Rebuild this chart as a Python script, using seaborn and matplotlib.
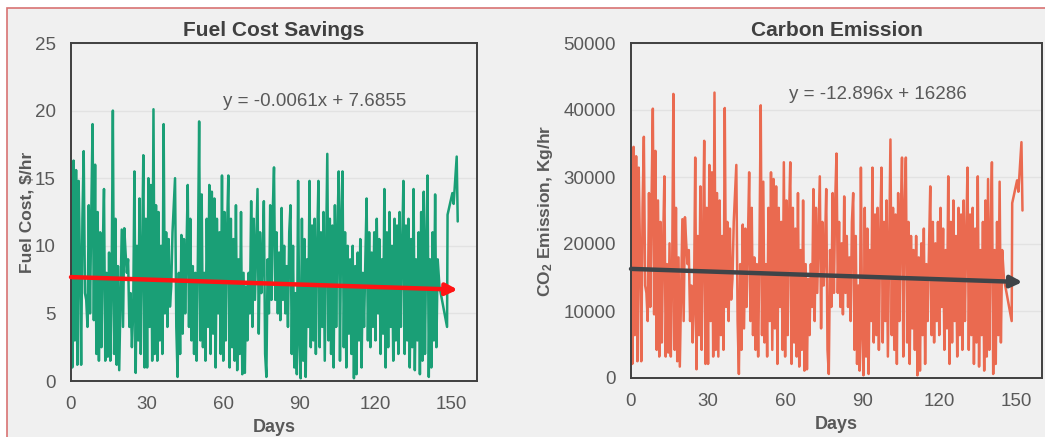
import numpy as np
import pandas as pd
import seaborn as sns
import matplotlib.pyplot as plt
from matplotlib.patches import Rectangle

# fuel cost savings, $/hr  (one reading every half day, days 0 .. 144.5)
fuel_cost = [
    15.0, 1.0, 16.3, 3.0, 15.6, 1.2, 14.8, 9.0, 1.2, 12.0, 17.0, 6.5, 6.0, 4.0, 13.0, 5.0, 12.5, 19.0, 4.5, 16.0,
    2.0, 12.5, 1.5, 11.0, 2.5, 9.5, 14.2, 1.5, 8.0, 1.8, 9.5, 1.5, 7.0, 20.0, 2.0, 12.0, 1.2, 8.5, 0.8, 6.0,
    11.2, 4.0, 11.3, 9.5, 8.0, 9.0, 4.0, 6.5, 2.5, 5.0, 15.5, 0.6, 10.0, 3.0, 13.5, 2.0, 9.0, 16.7, 1.0, 12.0,
    1.0, 15.0, 4.0, 14.5, 1.5, 20.1, 2.0, 13.0, 1.5, 12.5, 3.0, 10.0, 2.0, 19.0, 5.0, 11.0, 4.0, 10.5, 5.5, 7.0,
    11.0, 13.0, 15.0, 4.0, 0.3, 8.0, 2.0, 10.8, 3.5, 10.5, 5.0, 9.5, 14.5, 4.0, 12.0, 3.0, 8.5, 2.0, 8.0, 1.5,
    9.0, 19.2, 3.0, 13.8, 2.5, 8.0, 1.5, 12.0, 4.0, 14.5, 2.0, 14.0, 3.5, 13.5, 1.0, 12.0, 5.0, 11.0, 2.0, 15.2,
    1.5, 12.5, 3.0, 11.0, 15.2, 1.0, 12.0, 2.5, 10.5, 1.5, 13.0, 0.8, 9.0, 2.0, 12.5, 0.5, 8.0, 0.6, 7.0, 3.0,
    8.0, 5.0, 13.3, 4.0, 12.0, 6.0, 10.0, 14.2, 3.5, 11.0, 6.5, 9.0, 13.3, 2.0, 0.3, 9.0, 5.0, 13.0, 6.0, 12.5,
    15.8, 6.0, 11.0, 5.0, 9.5, 4.5, 12.8, 6.0, 10.0, 5.0, 8.5, 4.0, 11.0, 13.0, 2.0, 10.0, 1.0, 6.5, 0.5, 14.8,
    3.0, 0.2, 12.0, 1.5, 10.5, 0.3, 9.0, 4.0, 14.8, 2.5, 11.5, 3.0, 12.0, 2.0, 10.0, 14.8, 2.5, 11.0, 4.0, 12.5,
    1.5, 9.0, 16.8, 3.0, 12.0, 2.0, 11.5, 1.0, 13.0, 4.0, 11.0, 15.5, 1.5, 12.0, 15.5, 2.5, 11.0, 1.0, 10.0, 3.5,
    9.0, 2.0, 10.0, 0.2, 8.5, 0.5, 9.5, 3.0, 10.5, 1.0, 8.0, 4.0, 9.0, 13.5, 3.0, 11.0, 2.5, 9.5, 4.0, 11.0,
    3.0, 12.0, 5.0, 10.5, 2.0, 9.0, 3.5, 14.2, 1.0, 11.0, 2.5, 12.5, 4.0, 10.0, 1.5, 12.0, 3.0, 11.5, 2.0, 12.5,
    4.0, 10.0, 14.8, 2.0, 11.5, 3.0, 12.0, 1.0, 10.5, 2.5, 14.2, 0.8, 9.0, 3.0, 11.0, 0.5, 12.5, 1.5, 14.0, 2.0,
    10.0, 15.2, 0.3, 9.0, 1.0, 11.0, 3.0, 13.8, 2.5, 9.0,
]

# CO2 emission, kg/hr (same half-day readings)
co2_emission = [
    31800, 2100, 34500, 6400, 33100, 2500, 31400, 19100, 2500, 25400, 36000, 13800, 12700, 8500, 27600, 10600, 26500, 40200, 9500, 33900,
    4200, 26500, 3200, 23300, 5300, 20100, 30100, 3200, 17000, 3800, 20100, 3200, 14800, 42400, 4200, 25400, 2500, 18000, 1700, 12700,
    23700, 8500, 24000, 20100, 17000, 19100, 8500, 13800, 5300, 10600, 32900, 1300, 21200, 6400, 28600, 4200, 19100, 35400, 2100, 25400,
    2100, 31800, 8500, 30700, 3200, 42600, 4200, 27600, 3200, 26500, 6400, 21200, 4200, 40300, 10600, 23300, 8500, 22300, 11700, 14800,
    23300, 27600, 31800, 8500, 600, 17000, 4200, 22900, 7400, 22300, 10600, 20100, 30700, 8500, 25400, 6400, 18000, 4200, 17000, 3200,
    19100, 40700, 6400, 29300, 5300, 17000, 3200, 25400, 8500, 30700, 4200, 29700, 7400, 28600, 2100, 25400, 10600, 23300, 4200, 32200,
    3200, 26500, 6400, 23300, 32200, 2100, 25400, 5300, 22300, 3200, 27600, 1700, 19100, 4200, 26500, 1100, 17000, 1300, 14800, 6400,
    17000, 10600, 28200, 8500, 25400, 12700, 21200, 30100, 7400, 23300, 13800, 19100, 28200, 4200, 600, 19100, 10600, 27600, 12700, 26500,
    33500, 12700, 23300, 10600, 20100, 9500, 27100, 12700, 21200, 10600, 18000, 8500, 23300, 27600, 4200, 21200, 2100, 13800, 1100, 31400,
    6400, 400, 25400, 3200, 22300, 600, 19100, 8500, 31400, 5300, 24400, 6400, 25400, 4200, 21200, 31400, 5300, 23300, 8500, 26500,
    3200, 19100, 35600, 6400, 25400, 4200, 24400, 2100, 27600, 8500, 23300, 32900, 3200, 25400, 32900, 5300, 23300, 2100, 21200, 7400,
    19100, 4200, 21200, 400, 18000, 1100, 20100, 6400, 22300, 2100, 17000, 8500, 19100, 28600, 6400, 23300, 5300, 20100, 8500, 23300,
    6400, 25400, 10600, 22300, 4200, 19100, 7400, 30100, 2100, 23300, 5300, 26500, 8500, 21200, 3200, 25400, 6400, 24400, 4200, 26500,
    8500, 21200, 31400, 4200, 24400, 6400, 25400, 2100, 22300, 5300, 30100, 1700, 19100, 6400, 23300, 1100, 26500, 3200, 29700, 4200,
    21200, 32200, 600, 19100, 2100, 23300, 6400, 29300, 5300, 19100,
]

# last few readings are irregular
tail_days = [145.2, 148.2, 148.4, 149.6, 150.3, 150.8, 152.0, 152.4]
tail_fuel = [7.0, 4.0, 12.3, 13.3, 13.9, 13.1, 16.6, 11.8]
tail_co2 = [14800, 8500, 26100, 28200, 29500, 27800, 35200, 25000]

# linear trend lines as printed on the chart
fuel_slope, fuel_icpt = -0.0061, 7.6855
co2_slope, co2_icpt = -12.896, 16286
trend_end = 152.4

days = np.concatenate([np.arange(0, 145, 0.5), tail_days])
df = pd.DataFrame({
    'days': days,
    'fuel': fuel_cost + tail_fuel,
    'co2': co2_emission + tail_co2,
})

sns.set_style('white')
plt.rcParams['font.family'] = ['Liberation Sans', 'DejaVu Sans']
plt.rcParams['mathtext.default'] = 'regular'

bg = '#f0f0f0'
txt = '#595959'
fig = plt.figure(figsize=(10.45, 4.37), dpi=100, facecolor='white')
fig.patches.append(Rectangle((7 / 1045, -0.05), 1.1, (437 - 7.5) / 437 + 0.05,
                             transform=fig.transFigure, facecolor=bg,
                             edgecolor='#d87373', linewidth=1.2, zorder=-1))

ax1 = fig.add_axes([71 / 1045, 56 / 437, 406 / 1045, 338 / 437])
ax2 = fig.add_axes([631 / 1045, 59 / 437, 411 / 1045, 335 / 437])

panels = [
    (ax1, 'fuel', '#1a9f76', 'Fuel Cost Savings', 'Fuel Cost, $/hr', 25, 5,
     fuel_slope, fuel_icpt, '#ff1414', 'y = -0.0061x + 7.6855', (60, 20.7), 0),
    (ax2, 'co2', '#ea6a50', 'Carbon Emission', r'CO$_2$ Emission, Kg/hr', 50000, 10000,
     co2_slope, co2_icpt, '#3f4448', 'y = -12.896x + 16286', (61.5, 42300), 6),
]

for ax, col, color, title, ylab, ymax, ystep, slope, icpt, tcol, eq, eqpos, ylpad in panels:
    ax.set_facecolor(bg)
    sns.lineplot(data=df, x='days', y=col, ax=ax, color=color, linewidth=1.8,
                 estimator=None, sort=False)
    ax.set_xlim(0, 160)
    ax.set_ylim(0, ymax)
    ax.set_xticks([0, 30, 60, 90, 120, 150])
    ax.set_yticks(np.arange(0, ymax + 1, ystep))
    ax.yaxis.grid(True, color='#e2e2e2', linewidth=1)
    ax.set_axisbelow(True)
    for s in ax.spines.values():
        s.set_color('#404040')
        s.set_linewidth(1.4)
    ax.tick_params(axis='x', direction='inout', length=8, width=1.3, color='#404040',
                   labelsize=13.5, labelcolor=txt, pad=7)
    ax.tick_params(axis='y', length=0, labelsize=13.5, labelcolor=txt, pad=11)
    ax.set_title(title, fontsize=15, fontweight='bold', color='#404040', pad=5)
    ax.set_xlabel('Days', fontsize=13, fontweight='bold', color=txt, labelpad=4)
    ax.set_ylabel(ylab, fontsize=12.5, fontweight='bold', color=txt, labelpad=ylpad)

    # trend line with arrow head
    ax.annotate('', xy=(trend_end, slope * trend_end + icpt), xytext=(0, icpt),
                arrowprops=dict(arrowstyle='-|>', color=tcol, lw=3.2, mutation_scale=17,
                                shrinkA=0, shrinkB=0))
    ax.text(eqpos[0], eqpos[1], eq, fontsize=13.5, color=txt, va='center')

plt.savefig('out.png', dpi=100, facecolor=fig.get_facecolor())
